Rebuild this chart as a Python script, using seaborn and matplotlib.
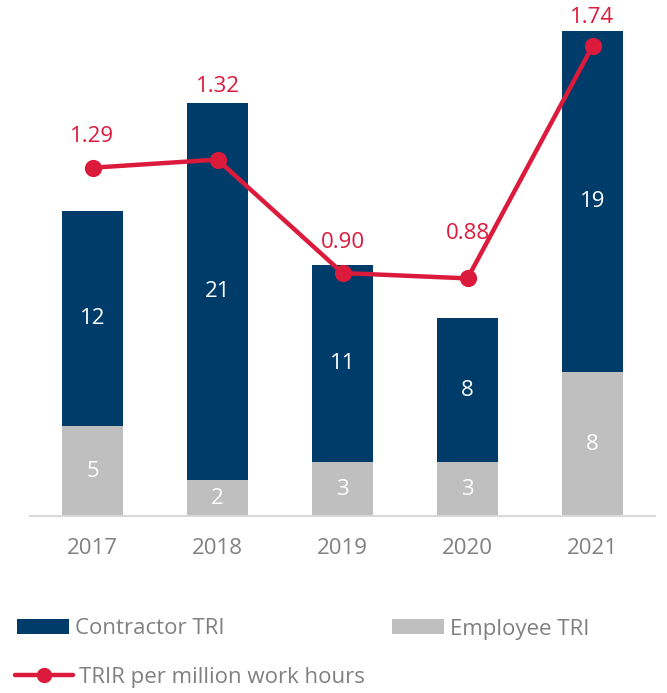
import numpy as np
import pandas as pd
import matplotlib
matplotlib.use('Agg')
import matplotlib.pyplot as plt
import seaborn as sns
from matplotlib.patches import Patch
from matplotlib.lines import Line2D

years = ['2017', '2018', '2019', '2020', '2021']
contractor_tri = [12, 21, 11, 8, 19]
employee_tri = [5, 2, 3, 3, 8]
trir = [1.29, 1.32, 0.90, 0.88, 1.74]
trir_labels = ['1.29', '1.32', '0.90', '0.88', '1.74']

navy = '#003C69'
grey = '#BFBFBF'
red = '#DC1A3C'
text_grey = '#808080'

sns.set_theme(style='white')
plt.rcParams['font.family'] = ['Open Sans', 'DejaVu Sans']

df = pd.DataFrame({'year': years, 'contractor': contractor_tri,
                   'employee': employee_tri, 'trir': trir})
df['total'] = df['contractor'] + df['employee']

fig = plt.figure(figsize=(6.67, 6.93), dpi=100)
ax = fig.add_axes([30 / 667, 177 / 693, 625 / 667, 516 / 693])

# stacked bars: total in navy, employee drawn over it in grey
sns.barplot(data=df, x='year', y='total', color=navy, width=0.49, ax=ax,
            saturation=1, edgecolor='none')
sns.barplot(data=df, x='year', y='employee', color=grey, width=0.49, ax=ax,
            saturation=1, edgecolor='none')

ax.set_xlim(-0.5, 4.5)
ax.set_ylim(0, 516 / 17.96)
ax.set_xlabel('')
ax.set_ylabel('')
ax.set_yticks([])
sns.despine(ax=ax, left=True, top=True, right=True)
ax.spines['bottom'].set_color('#D9D9D9')
ax.spines['bottom'].set_linewidth(1.5)
ax.tick_params(axis='x', length=0, pad=16, labelsize=16, labelcolor=text_grey)

for i in range(len(years)):
    ax.text(i, employee_tri[i] / 2, str(employee_tri[i]), ha='center', va='center',
            color='white', fontsize=16)
    ax.text(i, employee_tri[i] + contractor_tri[i] / 2, str(contractor_tri[i]),
            ha='center', va='center', color='white', fontsize=16)

ax2 = ax.twinx()
sns.pointplot(data=df, x='year', y='trir', color=red, ax=ax2,
              markers='o', markersize=10, linewidth=3.2)
ax2.set_xlim(-0.5, 4.5)
ax2.set_ylim(0, 516 / 270)
ax2.set_yticks([])
ax2.set_ylabel('')
ax2.set_xlabel('')
for s in ax2.spines.values():
    s.set_visible(False)

label_offsets = [31, 73, 31, 45, 29]
for i in range(len(years)):
    ax2.annotate(trir_labels[i], (i, trir[i]), xytext=(0, label_offsets[i] * 0.72),
                 textcoords='offset points', ha='center', va='center',
                 color=red, fontsize=16)

h1 = [Patch(facecolor=navy, edgecolor='none')]
h2 = [Patch(facecolor=grey, edgecolor='none')]
h3 = [Line2D([0], [0], color=red, lw=3.2, marker='o', markersize=10)]
common = dict(frameon=False, fontsize=16, handleheight=0.68,
              handletextpad=0.27, labelcolor=text_grey, borderaxespad=0,
              borderpad=0)
fig.legend(h1, ['Contractor TRI'], loc='center left', handlelength=2.34,
           bbox_to_anchor=(17 / 667, 1 - 629 / 693), **common)
fig.legend(h2, ['Employee TRI'], loc='center left', handlelength=2.34,
           bbox_to_anchor=(392 / 667, 1 - 629 / 693), **common)
fig.legend(h3, ['TRIR per million work hours'], loc='center left',
           handlelength=2.6, bbox_to_anchor=(15 / 667, 1 - 677 / 693), **common)

fig.savefig('out.png', dpi=100)
